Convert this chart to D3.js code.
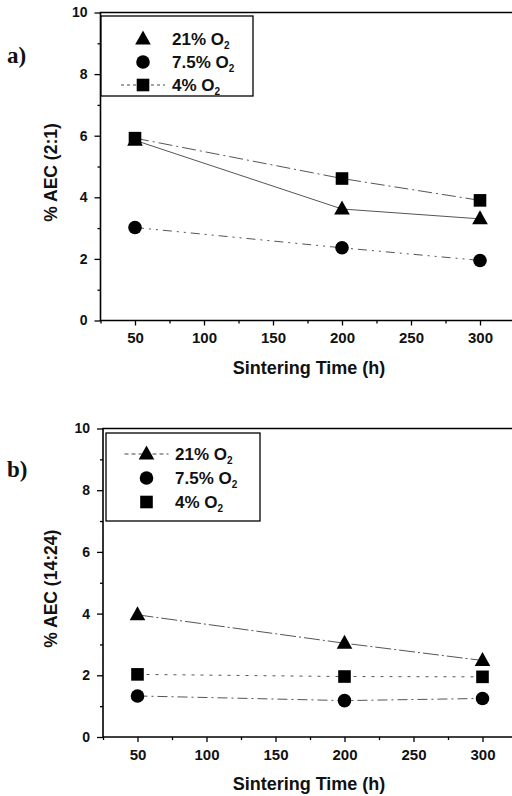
<!DOCTYPE html>
<html>
<head>
<meta charset="utf-8">
<script src="https://cdn.jsdelivr.net/npm/d3@7"></script>
<style>
  html, body { margin: 0; padding: 0; background: #fff; }
  svg { display: block; }
  text { font-family: "Liberation Sans", Arial, sans-serif; font-weight: bold; fill: #111; }
</style>
</head>
<body>
<svg id="chart" width="512" height="796"></svg>
<script>
// === Data ===
const times = [50, 200, 300];
const seriesLabels = ['21% O', '7.5% O', '4% O'];
const seriesShapes = ['triangle', 'circle', 'square'];

// panel a) % AEC (2:1)
const aec21_a = [5.85, 3.62, 3.3];
const aec75_a = [3.02, 2.36, 1.95];
const aec4_a = [5.92, 4.61, 3.9];

// panel b) % AEC (14:24)
const aec21_b = [3.96, 3.04, 2.48];
const aec75_b = [1.33, 1.18, 1.25];
const aec4_b = [2.03, 1.96, 1.95];

const xMajorTicks = [50, 100, 150, 200, 250, 300];
const xMinorTicks = [25, 75, 125, 175, 225, 275, 325];
const yMajorTicks = [0, 2, 4, 6, 8, 10];
const yMinorTicks = [1, 3, 5, 7, 9];

const svg = d3.select('#chart');
const FONT = '"Liberation Sans", Arial, sans-serif';

function marker(g, shape, x, y) {
    if (shape === 'circle') {
        g.append('circle').attr('cx', x).attr('cy', y).attr('r', 6.8).attr('fill', '#000');
    } else if (shape === 'square') {
        g.append('rect').attr('x', x - 6.3).attr('y', y - 6.3).attr('width', 12.6).attr('height', 12.6).attr('fill', '#000');
    } else {
        g.append('path').attr('d', `M${x},${y - 8.5}L${x + 7.8},${y + 5.5}L${x - 7.8},${y + 5.5}Z`).attr('fill', '#000');
    }
}

function drawPanel(p) {
    const g = svg.append('g');
    const x = d3.scaleLinear().domain([25, 335]).range([p.left, p.left + 310 * 1.38]);
    const y = d3.scaleLinear().domain([0, 10]).range([p.bottom, p.top]);

    // frame (right edge falls outside the picture)
    g.append('path')
        .attr('d', `M${x(335)},${y(10)}H${x(25)}V${y(0)}H${x(335)}`)
        .attr('fill', 'none').attr('stroke', '#000').attr('stroke-width', 1.6);

    // y axis
    const yAxis = g.append('g').attr('transform', `translate(${x(25)},0)`)
        .call(d3.axisLeft(y).tickValues(yMajorTicks).tickSize(6).tickPadding(7).tickFormat(d3.format('d')));
    yAxis.select('.domain').remove();
    yAxis.selectAll('text').style('font-size', '14px');
    g.append('g').attr('transform', `translate(${x(25)},0)`)
        .call(d3.axisLeft(y).tickValues(yMinorTicks).tickSize(3).tickFormat(''))
        .select('.domain').remove();

    // x axis
    const xAxis = g.append('g').attr('transform', `translate(0,${y(0)})`)
        .call(d3.axisBottom(x).tickValues(xMajorTicks).tickSize(5).tickPadding(7));
    xAxis.select('.domain').remove();
    xAxis.selectAll('text').style('font-size', '15px');
    g.append('g').attr('transform', `translate(0,${y(0)})`)
        .call(d3.axisBottom(x).tickValues(xMinorTicks).tickSize(3).tickFormat(''))
        .select('.domain').remove();
    g.selectAll('.tick line').attr('stroke', '#000').attr('stroke-width', 1.3);
    g.selectAll('.tick text').style('font-family', FONT).style('font-weight', 'bold').attr('fill', '#111');

    // axis titles
    g.append('text').attr('x', 309).attr('y', y(0) + 53)
        .attr('text-anchor', 'middle').style('font-size', '18px').text('Sintering Time (h)');
    g.append('text')
        .attr('transform', `translate(57,${(y(0) + y(10)) / 2 + 6}) rotate(-90)`)
        .attr('text-anchor', 'middle').style('font-size', '17.5px').text(p.yTitle);

    // panel letter
    g.append('text').attr('x', 7).attr('y', p.letterY)
        .style('font-family', '"Liberation Serif", "DejaVu Serif", serif')
        .style('font-size', '23px').text(p.letter);

    // series lines
    const line = d3.line().x((d, i) => x(times[i])).y(d => y(d));
    p.series.forEach((vals, k) => {
        g.append('path').datum(vals).attr('d', line)
            .attr('fill', 'none').attr('stroke', '#555').attr('stroke-width', 1)
            .attr('stroke-dasharray', p.dashes[k]);
    });
    p.series.forEach((vals, k) => {
        vals.forEach((v, i) => marker(g, seriesShapes[k], x(times[i]), y(v)));
    });

    // legend
    const L = p.legend;
    g.append('rect').attr('x', L.x).attr('y', L.y).attr('width', L.w).attr('height', L.h)
        .attr('fill', '#fff').attr('stroke', '#000').attr('stroke-width', 1.3);
    seriesLabels.forEach((lab, k) => {
        const cy = L.y + L.first + k * L.step;
        if (L.lines[k]) {
            g.append('line').attr('x1', L.mx - 22).attr('x2', L.mx + 22).attr('y1', cy).attr('y2', cy)
                .attr('stroke', '#444').attr('stroke-width', 1).attr('stroke-dasharray', L.lines[k]);
        }
        marker(g, seriesShapes[k], L.mx, cy);
        const t = g.append('text').attr('x', L.tx).attr('y', cy + 6).style('font-size', '17px').text(lab);
        t.append('tspan').style('font-size', '10px').attr('dy', 4).text('2');
    });
}

drawPanel({
    letter: 'a)', letterY: 63, yTitle: '% AEC (2:1)',
    left: 100.5, top: 12.5, bottom: 320.5,
    series: [aec21_a, aec75_a, aec4_a],
    dashes: ['none', '9,5,2,5,2,5', '14,4,2,4'],
    legend: { x: 101, y: 16, w: 152, h: 80, first: 23, step: 23, mx: 143, tx: 172,
              lines: [null, null, '3,3'] }
});

drawPanel({
    letter: 'b)', letterY: 477, yTitle: '% AEC (14:24)',
    left: 103, top: 428.5, bottom: 737,
    series: [aec21_b, aec75_b, aec4_b],
    dashes: ['16,3,2,3', '10,4,2,4', '3,6'],
    legend: { x: 106, y: 433, w: 154, h: 88, first: 21, step: 24, mx: 146.5, tx: 175,
              lines: ['4,3', null, null] }
});
</script>
</body>
</html>
